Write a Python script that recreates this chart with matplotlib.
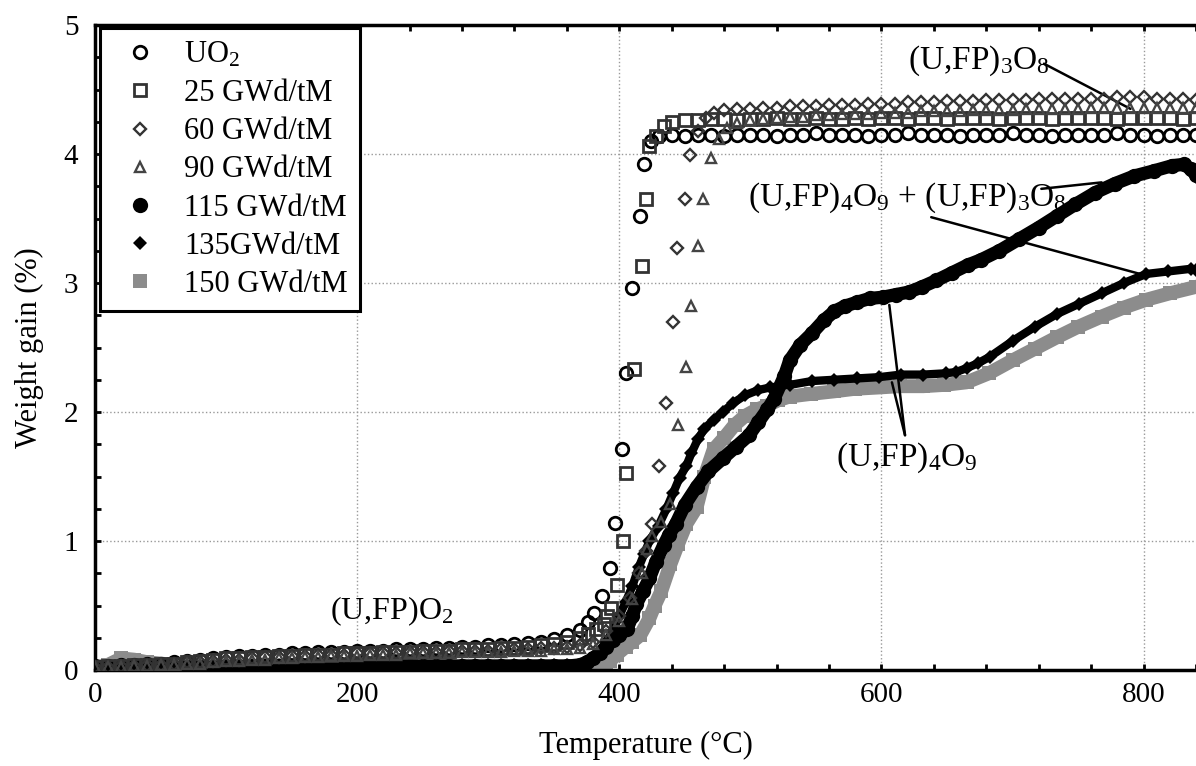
import matplotlib
matplotlib.use("Agg")
import matplotlib.pyplot as plt
from matplotlib.ticker import MultipleLocator

plt.rcParams['font.family'] = ['Liberation Serif', 'DejaVu Serif']
plt.rcParams['mathtext.fontset'] = 'custom'
plt.rcParams['mathtext.rm'] = 'Liberation Serif'
plt.rcParams['mathtext.default'] = 'regular'

# temperatures of the slow low-temperature part (deg C)
t_low = list(range(0, 380, 10))

# UO2 (open circles)
t_uo2 = t_low + [376, 381, 387, 393, 397, 402, 405, 410, 416, 419, 424, 430] + list(range(440, 850, 10))
w_uo2 = [0.02, 0.03, 0.04, 0.04, 0.05, 0.05, 0.06, 0.07, 0.08, 0.09, 0.10, 0.11, 0.11, 0.12, 0.12, 0.13,
         0.13, 0.14, 0.14, 0.14, 0.15, 0.15, 0.15, 0.16, 0.16, 0.16, 0.17, 0.17, 0.18, 0.18, 0.19, 0.19,
         0.20, 0.21, 0.22, 0.24, 0.27, 0.31,
         0.37, 0.44, 0.57, 0.79, 1.14, 1.71, 2.30, 2.96, 3.52, 3.92, 4.10, 4.14,
         4.15, 4.14, 4.15, 4.15, 4.14, 4.15, 4.15, 4.15, 4.14, 4.15, 4.15, 4.16, 4.15, 4.15, 4.15, 4.14,
         4.15, 4.15, 4.16, 4.15, 4.15, 4.15, 4.14, 4.15, 4.15, 4.15, 4.16, 4.15, 4.15, 4.14, 4.15, 4.15,
         4.15, 4.15, 4.16, 4.15, 4.15, 4.14, 4.15, 4.15, 4.15]

# 25 GWd/tM (open squares)
t_25 = t_low + [376, 382, 388, 391, 394, 398, 403, 405, 411, 417, 420, 423, 428, 434] + list(range(440, 850, 10))
w_25 = [0.02, 0.03, 0.03, 0.04, 0.04, 0.05, 0.05, 0.06, 0.07, 0.08, 0.09, 0.09, 0.10, 0.10, 0.11, 0.11,
        0.12, 0.12, 0.12, 0.13, 0.13, 0.13, 0.14, 0.14, 0.14, 0.15, 0.15, 0.15, 0.16, 0.16, 0.16, 0.17,
        0.17, 0.18, 0.19, 0.20, 0.22, 0.25,
        0.28, 0.32, 0.36, 0.42, 0.48, 0.66, 1.00, 1.53, 2.33, 3.13, 3.65, 4.06, 4.14, 4.22,
        4.25, 4.26, 4.26, 4.27, 4.27, 4.26, 4.27, 4.27, 4.28, 4.27, 4.27, 4.28, 4.27, 4.27, 4.28, 4.27,
        4.28, 4.28, 4.27, 4.28, 4.28, 4.27, 4.28, 4.28, 4.28, 4.27, 4.28, 4.28, 4.28, 4.27, 4.28, 4.28,
        4.28, 4.28, 4.27, 4.28, 4.28, 4.28, 4.28, 4.27, 4.28]

# 60 GWd/tM (open diamonds)
t_60 = t_low + [380, 390, 400, 408, 415, 420, 425, 430, 436, 441, 444, 450, 454, 460, 466, 472] + list(range(480, 850, 10))
w_60 = [0.02, 0.02, 0.03, 0.03, 0.04, 0.04, 0.05, 0.06, 0.06, 0.07, 0.08, 0.08, 0.09, 0.10, 0.10, 0.11,
        0.11, 0.12, 0.12, 0.12, 0.13, 0.13, 0.13, 0.13, 0.14, 0.14, 0.14, 0.15, 0.15, 0.15, 0.15, 0.16,
        0.16, 0.16, 0.17, 0.17, 0.18, 0.19,
        0.22, 0.30, 0.42, 0.56, 0.75, 0.92, 1.13, 1.58, 2.07, 2.70, 3.27, 3.65, 3.99, 4.18, 4.28, 4.32,
        4.34, 4.35, 4.35, 4.36, 4.36, 4.37, 4.37, 4.37, 4.38, 4.38, 4.38, 4.39, 4.39, 4.39, 4.40, 4.40,
        4.40, 4.41, 4.41, 4.41, 4.42, 4.42, 4.42, 4.42, 4.43, 4.43, 4.43, 4.43, 4.43, 4.43, 4.44, 4.44,
        4.44, 4.43, 4.43, 4.43, 4.42]

# 90 GWd/tM (open triangles)
t_90 = t_low + [380, 390, 400, 410, 417, 421, 425, 432, 439, 445, 451, 455, 460, 464, 470, 476, 482] + list(range(490, 850, 10))
w_90 = [0.02, 0.02, 0.02, 0.03, 0.03, 0.04, 0.04, 0.05, 0.05, 0.06, 0.07, 0.07, 0.08, 0.08, 0.09, 0.09,
        0.10, 0.10, 0.11, 0.11, 0.11, 0.12, 0.12, 0.12, 0.13, 0.13, 0.13, 0.13, 0.14, 0.14, 0.14, 0.14,
        0.15, 0.15, 0.15, 0.16, 0.16, 0.17,
        0.20, 0.27, 0.38, 0.55, 0.75, 0.94, 1.04, 1.15, 1.29, 1.90, 2.35, 2.82, 3.29, 3.65, 3.97, 4.12, 4.20,
        4.24, 4.26, 4.27, 4.28, 4.29, 4.29, 4.30, 4.30, 4.31, 4.31, 4.31, 4.32, 4.32, 4.32, 4.33, 4.33,
        4.33, 4.33, 4.34, 4.34, 4.34, 4.34, 4.35, 4.35, 4.35, 4.35, 4.35, 4.36, 4.36, 4.36, 4.36, 4.36,
        4.36, 4.36, 4.36, 4.36]

# 115 GWd/tM (filled circles)
t_115 = list(range(0, 370, 10)) + [370, 375, 380, 385, 390, 395, 400, 406, 410, 413, 418, 423, 428, 434, 438, 443,
                                   450, 459, 468, 479, 489, 499, 506, 513, 518, 526, 530, 538, 547, 556, 564, 572,
                                   581, 591, 601, 611, 621, 631, 642, 654, 666, 676, 690, 705, 720, 734, 748, 763,
                                   778, 793, 808, 822, 831, 836, 840]
w_115 = [0.03, 0.02, 0.02, 0.02, 0.02, 0.02, 0.02, 0.02, 0.02, 0.02, 0.02, 0.02, 0.02, 0.03, 0.03, 0.03,
         0.03, 0.03, 0.03, 0.03, 0.03, 0.03, 0.03, 0.03, 0.03, 0.03, 0.03, 0.03, 0.03, 0.03, 0.03, 0.03,
         0.03, 0.03, 0.03, 0.03, 0.03,
         0.04, 0.06, 0.09, 0.13, 0.18, 0.23, 0.27, 0.32, 0.42, 0.51, 0.61, 0.71, 0.84, 0.97, 1.05, 1.13,
         1.28, 1.42, 1.54, 1.64, 1.73, 1.82, 1.92, 2.02, 2.10, 2.28, 2.40, 2.52, 2.61, 2.71, 2.78, 2.82,
         2.85, 2.88, 2.89, 2.91, 2.93, 2.97, 3.02, 3.08, 3.14, 3.18, 3.25, 3.34, 3.43, 3.52, 3.61, 3.70,
         3.77, 3.83, 3.87, 3.91, 3.92, 3.88, 3.84]

# 135 GWd/tM (filled diamonds)
t_135 = list(range(0, 370, 10)) + [370, 375, 380, 385, 390, 395, 400, 405, 410, 415, 419, 423, 430, 436, 441, 446,
                                   451, 455, 460, 465, 472, 479, 487, 496, 506, 515, 530, 547, 564, 581, 598, 615,
                                   632, 649, 657, 665, 674, 683, 700, 717, 734, 751, 768, 785, 802, 819, 836, 840]
w_135 = [0.02, 0.03, 0.03, 0.02, 0.02, 0.03, 0.03, 0.03, 0.03, 0.03, 0.03, 0.03, 0.04, 0.04, 0.04, 0.04,
         0.04, 0.04, 0.04, 0.04, 0.04, 0.04, 0.04, 0.04, 0.04, 0.04, 0.04, 0.04, 0.04, 0.04, 0.04, 0.04,
         0.04, 0.04, 0.04, 0.04, 0.04,
         0.04, 0.06, 0.10, 0.15, 0.22, 0.30, 0.42, 0.53, 0.65, 0.80, 0.90, 1.00, 1.12, 1.25, 1.37, 1.49,
         1.58, 1.68, 1.79, 1.87, 1.94, 2.00, 2.07, 2.13, 2.17, 2.19, 2.21, 2.24, 2.25, 2.26, 2.27, 2.29,
         2.29, 2.30, 2.31, 2.34, 2.38, 2.43, 2.55, 2.66, 2.76, 2.84, 2.92, 3.00, 3.07, 3.09, 3.11, 3.10]

# 150 GWd/tM (grey squares)
t_150 = list(range(0, 400, 10)) + [393, 398, 405, 410, 416, 423, 427, 432, 439, 445, 451, 459, 465, 472, 480, 488,
                                   496, 505, 513, 521, 530, 546, 564, 580, 598, 614, 632, 648, 665, 682, 700, 717,
                                   734, 750, 768, 785, 802, 820, 840]
w_150 = [0.02, 0.04, 0.09, 0.08, 0.06, 0.05, 0.04, 0.04, 0.03, 0.03, 0.03, 0.03, 0.03, 0.03, 0.03, 0.03,
         0.03, 0.03, 0.03, 0.03, 0.03, 0.03, 0.03, 0.03, 0.03, 0.03, 0.03, 0.03, 0.03, 0.03, 0.03, 0.03,
         0.03, 0.03, 0.03, 0.03, 0.03, 0.03, 0.03, 0.04,
         0.07, 0.12, 0.18, 0.22, 0.27, 0.40, 0.50, 0.61, 0.82, 0.98, 1.13, 1.26, 1.50, 1.71, 1.80, 1.90,
         1.97, 2.02, 2.05, 2.09, 2.12, 2.14, 2.16, 2.18, 2.19, 2.20, 2.20, 2.21, 2.23, 2.30, 2.40, 2.49,
         2.58, 2.66, 2.74, 2.81, 2.87, 2.92, 2.97]

fig = plt.figure(figsize=(11.96, 7.66), dpi=100)
ax = fig.add_axes([95 / 1196, 96 / 766, 1101 / 1196, 645 / 766])

# filled series: thick band + markers
ax.plot(t_150, w_150, '-', color='#8c8c8c', lw=10, zorder=2)
ax.plot(t_150, w_150, 's', color='#8c8c8c', ms=10, mew=0, zorder=2, label='150 GWd/tM')
ax.plot(t_135, w_135, '-', color='black', lw=6, zorder=3)
ax.plot(t_135, w_135, 'D', color='black', ms=7.5, mew=0, zorder=3, label='135GWd/tM')
ax.plot(t_115, w_115, '-', color='black', lw=9.5, zorder=4)
ax.plot(t_115, w_115, 'o', color='black', ms=11, mew=0, zorder=4, label='115 GWd/tM')

# open series
ax.plot(t_uo2, w_uo2, 'o', mfc='none', mec='black', ms=9, mew=2, zorder=5, label='UO$_2$')
ax.plot(t_25, w_25, 's', mfc='none', mec='#333333', ms=8.5, mew=2, zorder=5, label='25 GWd/tM')
ax.plot(t_60, w_60, 'D', mfc='none', mec='#333333', ms=6, mew=1.7, zorder=5, label='60 GWd/tM')
ax.plot(t_90, w_90, '^', mfc='none', mec='#444444', ms=7.5, mew=1.7, zorder=5, label='90 GWd/tM')

ax.set_xlim(0, 840)
ax.set_ylim(0, 5)
ax.xaxis.set_major_locator(MultipleLocator(200))
ax.xaxis.set_minor_locator(MultipleLocator(40))
ax.yaxis.set_major_locator(MultipleLocator(1))
ax.yaxis.set_minor_locator(MultipleLocator(0.25))
ax.tick_params(which='both', direction='in', length=4, width=2, top=True, right=False)
ax.tick_params(axis='x', labelsize=21, pad=9)
ax.tick_params(axis='y', labelsize=21, pad=12)
ax.grid(True, which='major', linestyle=':', color='#999999', lw=1)
for s in ['left', 'bottom', 'top']:
    ax.spines[s].set_linewidth(2.5)
ax.spines['right'].set_visible(False)

ax.set_xlabel('Temperature (°C)', fontsize=22, labelpad=16)
ax.set_ylabel('Weight gain (%)', fontsize=22, labelpad=14)

handles, labels = ax.get_legend_handles_labels()
order = ['UO$_2$', '25 GWd/tM', '60 GWd/tM', '90 GWd/tM', '115 GWd/tM', '135GWd/tM', '150 GWd/tM']
hmap = dict(zip(labels, handles))
leg = ax.legend([hmap[k] for k in order], order, loc='upper left', bbox_to_anchor=(0.0045, 0.995),
                borderaxespad=0, fontsize=22, frameon=True, fancybox=False, edgecolor='black',
                framealpha=1, numpoints=1, handlelength=1.8, handletextpad=0.55, borderpad=0.4,
                labelspacing=0.3)
leg.get_frame().set_linewidth(2.2)
leg.set_zorder(10)

# phase annotations
ax.text(179, 0.39, '(U,FP)O$_2$', fontsize=23, va='baseline', ha='left')
ax.text(620, 4.66, '(U,FP)$_3$O$_8$', fontsize=24, va='baseline', ha='left')
ax.annotate('', xy=(790, 4.35), xytext=(724, 4.70),
            arrowprops=dict(arrowstyle='-', lw=1.8, color='black', shrinkA=0, shrinkB=0))
ax.text(498, 3.60, '(U,FP)$_4$O$_9$ + (U,FP)$_3$O$_8$', fontsize=24, va='baseline', ha='left')
ax.annotate('', xy=(768, 3.78), xytext=(722, 3.73),
            arrowprops=dict(arrowstyle='-', lw=1.8, color='black', shrinkA=0, shrinkB=0))
ax.annotate('', xy=(801, 3.06), xytext=(638, 3.51),
            arrowprops=dict(arrowstyle='-', lw=1.8, color='black', shrinkA=0, shrinkB=0))
ax.text(565, 1.58, '(U,FP)$_4$O$_9$', fontsize=24, va='baseline', ha='left')
ax.annotate('', xy=(606, 2.83), xytext=(618, 1.82),
            arrowprops=dict(arrowstyle='-', lw=1.8, color='black', shrinkA=0, shrinkB=0))
ax.annotate('', xy=(608, 2.23), xytext=(618, 1.82),
            arrowprops=dict(arrowstyle='-', lw=1.8, color='black', shrinkA=0, shrinkB=0))

fig.savefig('out.png', dpi=100)
